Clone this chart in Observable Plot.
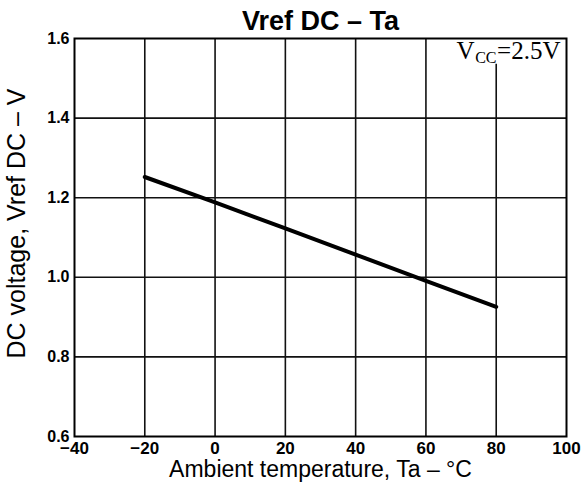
<!DOCTYPE html>
<html><head><meta charset="utf-8">
<script src="https://cdn.jsdelivr.net/npm/d3@7"></script>
<script src="https://cdn.jsdelivr.net/npm/@observablehq/plot@0.6"></script>
<style>body{margin:0;background:#fff} svg{display:block}</style>
</head><body><div id="chart"></div>
<script>
const temperature = [-20, 0, 20, 40, 60, 80];
const vrefDC = [1.252, 1.188, 1.123, 1.057, 0.991, 0.926];
const xTicks = [-40, -20, 0, 20, 40, 60, 80, 100];
const xTickLabels = ["\u221240", "\u221220", "0", "20", "40", "60", "80", "100"];
const yTicks = [0.6, 0.8, 1.0, 1.2, 1.4, 1.6];
const yTickLabels = ["0.6", "0.8", "1.0", "1.2", "1.4", "1.6"];
const titleText = "Vref DC \u2013 Ta";
const xLabel = "Ambient temperature, Ta \u2013 \u00b0C";
const yLabel = "DC voltage, Vref DC \u2013 V";
const condMain = "V";
const condSub = "CC";
const condRest = "=2.5V";

const data = temperature.map((t, i) => ({t, v: vrefDC[i]}));
const sans = "Liberation Sans, Arial, Helvetica, sans-serif";
const serif = "Liberation Serif, Times New Roman, serif";

const plot = Plot.plot({
  width: 582,
  height: 488,
  marginLeft: 74,
  marginRight: 16,
  marginTop: 38,
  marginBottom: 52,
  style: {fontFamily: sans, background: "#fff", color: "#000"},
  x: {domain: [-40, 100]},
  y: {domain: [0.6, 1.6]},
  marks: [
    Plot.ruleX(xTicks.slice(1, -1), {x: d => d, y1: 0.6, y2: d => d === 80 ? 1.535 : 1.6, stroke: "#111", strokeWidth: 1.6}),
    Plot.ruleY(yTicks.slice(1, -1), {y: d => d, x1: -40, x2: 100, stroke: "#111", strokeWidth: 1.6}),
    Plot.frame({stroke: "#000", strokeWidth: 2}),
    Plot.axisX({ticks: xTicks, tickFormat: d => xTickLabels[xTicks.indexOf(d)], tickSize: 0, tickPadding: 5, fontSize: 17, fontWeight: "bold", label: null}),
    Plot.axisY({ticks: yTicks, tickFormat: d => yTickLabels[yTicks.indexOf(d)], tickSize: 0, tickPadding: 5, fontSize: 16, fontWeight: "bold", label: null}),
    Plot.line(data, {x: "t", y: "v", stroke: "#000", strokeWidth: 4}),
    Plot.text([titleText], {frameAnchor: "top", lineAnchor: "middle", dy: -17, fontSize: 27, fontWeight: "bold", fill: "#000"}),
    Plot.text([xLabel], {frameAnchor: "bottom", lineAnchor: "middle", dy: 33, fontSize: 23, fill: "#000"}),
    Plot.text([yLabel], {frameAnchor: "left", textAnchor: "middle", lineAnchor: "middle", dx: -58, dy: -14, rotate: -90, fontSize: 25, fill: "#000"}),
    Plot.text([condRest], {frameAnchor: "top-right", textAnchor: "end", lineAnchor: "middle", dx: -6, dy: 12, fontSize: 25, fontFamily: serif, fill: "#000"}),
    Plot.text([condSub], {frameAnchor: "top-right", textAnchor: "end", lineAnchor: "middle", dx: -70, dy: 19, fontSize: 16, fontFamily: serif, fill: "#000"}),
    Plot.text([condMain], {frameAnchor: "top-right", textAnchor: "end", lineAnchor: "middle", dx: -92, dy: 12, fontSize: 25, fontFamily: serif, fill: "#000"})
  ]
});
document.getElementById("chart").appendChild(plot);
</script>
</body></html>
